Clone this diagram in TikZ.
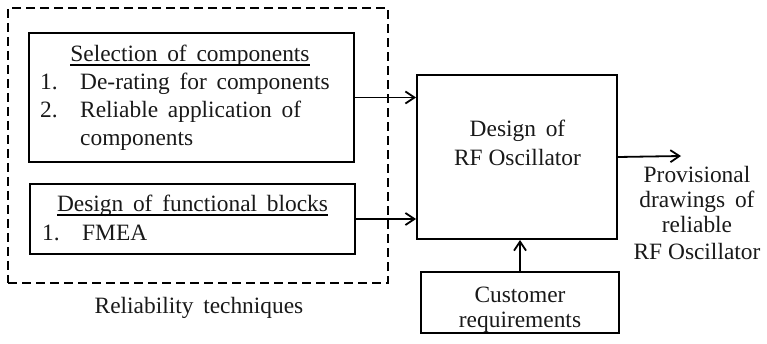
\documentclass[tikz,border=0pt]{standalone}
\usepackage{fontspec}
\setmainfont{Liberation Serif}
\usetikzlibrary{arrows.meta}
\tikzset{
  box/.style={draw, line width=2pt, inner sep=0pt},
  group/.style={draw, line width=2pt, dash pattern=on 9pt off 5pt, inner sep=0pt},
  txt/.style={inner sep=0pt, text=black!90, font=\fontsize{23.4}{26}\selectfont},
  uline/.style={line width=1.3pt},
  flow/.style={line width=1.8pt, -{Straight Barb[length=9pt,width=12pt,line width=1.8pt]}}
}
\begin{document}
\begin{tikzpicture}[x=1pt, y=-1pt]
\useasboundingbox (0,0) rectangle (767,344);

% group of reliability techniques
\node[group, minimum width=380, minimum height=275] (grp) at (198,145.5) {};
\node[box, minimum width=325, minimum height=129] (sel) at (191.5,97.5) {};
\node[box, minimum width=325, minimum height=70] (fun) at (192.5,219) {};

\node[txt, anchor=base] (selT) at (190,62) {Selection\, of\, components};
\draw[uline] ([yshift=-3pt]selT.base west) -- ([yshift=-3pt]selT.base east);
\node[txt, anchor=base west] (selN1) at (40,90) {1.};
\node[txt, anchor=base west] (selI1) at (80,90) {De-rating\, for\, components};
\node[txt, anchor=base west] (selN2) at (40,118) {2.};
\node[txt, anchor=base west] (selI2) at (80,118) {Reliable\, application\, of};
\node[txt, anchor=base west] (selI2b) at (80,146) {components};

\node[txt, anchor=base] (funT) at (192.5,212) {Design\, of\, functional\, blocks};
\draw[uline] ([yshift=-3pt]funT.base west) -- ([yshift=-3pt]funT.base east);
\node[txt, anchor=base west] (funN1) at (42,241) {1.};
\node[txt, anchor=base west] (funI1) at (82,241) {FMEA};

\node[txt, anchor=base] (cap) at (199,313) {Reliability\, techniques};

% design block
\node[box, minimum width=200, minimum height=164] (main) at (517,157) {};
\node[txt, anchor=base] (mainA) at (517.5,137) {Design\, of};
\node[txt, anchor=base] (mainB) at (517.5,166) {RF Oscillator};

% customer block
\node[box, minimum width=198, minimum height=61] (cust) at (520,302.5) {};
\node[txt, anchor=base] (custA) at (520,302) {Customer};
\node[txt, anchor=base] (custB) at (520,327) {requirements};

% output
\coordinate (out) at (681,156);
\node[txt, anchor=base] (outA) at (697,183) {Provisional};
\node[txt, anchor=base] (outB) at (697,208) {drawings\, of};
\node[txt, anchor=base] (outC) at (697,233) {reliable};
\node[txt, anchor=base] (outD) at (697,259) {RF Oscillator};

% connectors
\draw[flow] (sel.east) -- (sel.east -| main.west);
\draw[flow] (fun.east) -- (fun.east -| main.west);
\draw[flow] (main.east) -- (out);
\draw[flow] (cust.north) -- (cust.north |- main.south);
\end{tikzpicture}
\end{document}
